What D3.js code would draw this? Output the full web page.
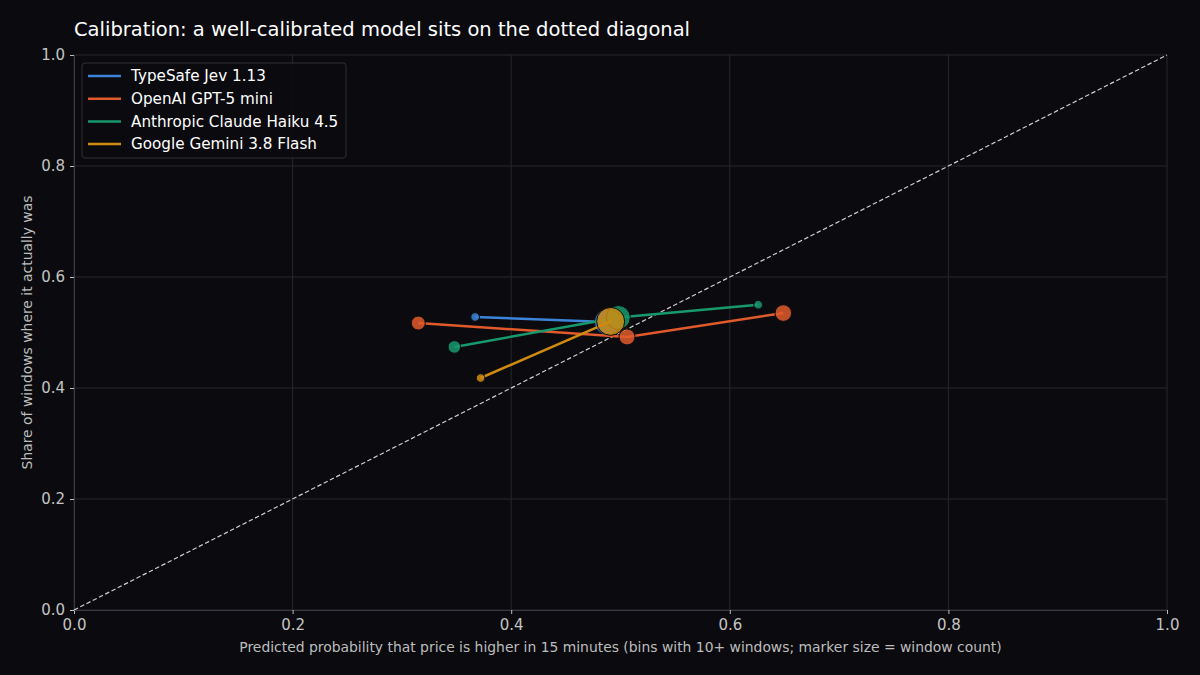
<!DOCTYPE html>
<html>
<head>
<meta charset="utf-8">
<script src="https://cdn.jsdelivr.net/npm/d3@7"></script>
<style>
  html, body { margin: 0; padding: 0; background: #0b0b0f; }
  svg { display: block; font-family: "DejaVu Sans", sans-serif; }
</style>
</head>
<body>
<svg id="chart" width="1200" height="675"></svg>
<script>
// series, in legend order
const models = ["TypeSafe Jev 1.13", "OpenAI GPT-5 mini", "Anthropic Claude Haiku 4.5", "Google Gemini 3.8 Flash"];
const colors = ["#3b84d8", "#e05a2b", "#17996c", "#d08b0f"];

// predicted probability per bin (x), observed share (y), windows in bin (n)
const typesafeX = [0.367, 0.488];
const typesafeY = [0.528, 0.519];
const typesafeN = [38, 345];

const openaiX = [0.315, 0.506, 0.649];
const openaiY = [0.517, 0.492, 0.535];
const openaiN = [100, 131, 141];

const claudeX = [0.348, 0.498, 0.626];
const claudeY = [0.474, 0.527, 0.550];
const claudeN = [81, 294, 38];

const geminiX = [0.372, 0.491];
const geminiY = [0.418, 0.520];
const geminiN = [38, 400];

const ticks = [0, 0.2, 0.4, 0.6, 0.8, 1.0];

const series = [
  [typesafeX, typesafeY, typesafeN],
  [openaiX, openaiY, openaiN],
  [claudeX, claudeY, claudeN],
  [geminiX, geminiY, geminiN]
].map((s, i) => ({
  name: models[i],
  color: colors[i],
  points: s[0].map((x, j) => ({ x: x, y: s[1][j], n: s[2][j] }))
}));

const svg = d3.select("#chart");
const margin = { top: 55, right: 33, bottom: 65, left: 74 };
const width = 1200 - margin.left - margin.right,
      height = 675 - margin.top - margin.bottom;

const x = d3.scaleLinear().domain([0, 1]).range([0, width]);
const y = d3.scaleLinear().domain([0, 1]).range([height, 0]);
const r = d3.scaleSqrt().domain([0, d3.max(series, s => d3.max(s.points, p => p.n))]).range([0, 14]);

svg.append("rect").attr("width", 1200).attr("height", 675).attr("fill", "#0b0b0f");

const g = svg.append("g").attr("transform", `translate(${margin.left},${margin.top})`);

// grid
g.append("g").selectAll("line").data(ticks).enter().append("line")
  .attr("x1", d => x(d)).attr("x2", d => x(d))
  .attr("y1", 0).attr("y2", height)
  .attr("stroke", "#27272d").attr("stroke-width", 1);
g.append("g").selectAll("line").data(ticks).enter().append("line")
  .attr("x1", 0).attr("x2", width)
  .attr("y1", d => y(d)).attr("y2", d => y(d))
  .attr("stroke", "#27272d").attr("stroke-width", 1);

// axes
const xAxis = g.append("g").attr("transform", `translate(0,${height})`)
  .call(d3.axisBottom(x).tickValues(ticks).tickFormat(d3.format(".1f")).tickSize(4).tickPadding(5));
const yAxis = g.append("g")
  .call(d3.axisLeft(y).tickValues(ticks).tickFormat(d3.format(".1f")).tickSize(4).tickPadding(5));
[xAxis, yAxis].forEach(a => {
  a.select(".domain").attr("stroke", "#3a3a42");
  a.selectAll(".tick line").attr("stroke", "#bdbdbd");
  a.selectAll(".tick text").attr("fill", "#c4c4c4").attr("font-size", 15)
    .attr("font-family", "DejaVu Sans, sans-serif");
});

// perfect calibration diagonal
g.append("line")
  .attr("x1", x(0)).attr("y1", y(0)).attr("x2", x(1)).attr("y2", y(1))
  .attr("stroke", "#cfcfcf").attr("stroke-width", 1.2).attr("stroke-dasharray", "4.5,2.5");

// lines and markers per model
const line = d3.line().x(d => x(d.x)).y(d => y(d.y));
series.forEach(s => {
  g.append("path").datum(s.points)
    .attr("d", line).attr("fill", "none")
    .attr("stroke", s.color).attr("stroke-width", 2.5);
  g.selectAll(null).data(s.points).enter().append("circle")
    .attr("cx", d => x(d.x)).attr("cy", d => y(d.y))
    .attr("r", d => r(d.n))
    .attr("fill", s.color).attr("fill-opacity", 0.85)
    .attr("stroke", "#0b0b0f").attr("stroke-width", 1);
});

// title and labels
svg.append("text").attr("x", 74).attr("y", 36)
  .attr("fill", "#ffffff").attr("font-size", 19.5)
  .text("Calibration: a well-calibrated model sits on the dotted diagonal");

svg.append("text").attr("x", margin.left + width / 2).attr("y", 652)
  .attr("text-anchor", "middle").attr("fill", "#bdbdbd").attr("font-size", 13.9)
  .text("Predicted probability that price is higher in 15 minutes (bins with 10+ windows; marker size = window count)");

svg.append("text")
  .attr("transform", `translate(32,${margin.top + height / 2}) rotate(-90)`)
  .attr("text-anchor", "middle").attr("fill", "#bdbdbd").attr("font-size", 13.9)
  .text("Share of windows where it actually was");

// legend
const legend = g.append("g").attr("transform", "translate(8,8)");
legend.append("rect").attr("width", 264).attr("height", 95).attr("rx", 3)
  .attr("fill", "#0b0b0f").attr("fill-opacity", 0.9)
  .attr("stroke", "#2e2e35").attr("stroke-width", 1);
const item = legend.selectAll("g").data(series).enter().append("g")
  .attr("transform", (d, i) => `translate(0,${13 + i * 22.7})`);
item.append("line").attr("x1", 6).attr("x2", 39)
  .attr("stroke", d => d.color).attr("stroke-width", 2.5);
item.append("text").attr("x", 49).attr("dy", "0.35em")
  .attr("fill", "#ffffff").attr("font-size", 15.2)
  .text(d => d.name);
</script>
</body>
</html>
